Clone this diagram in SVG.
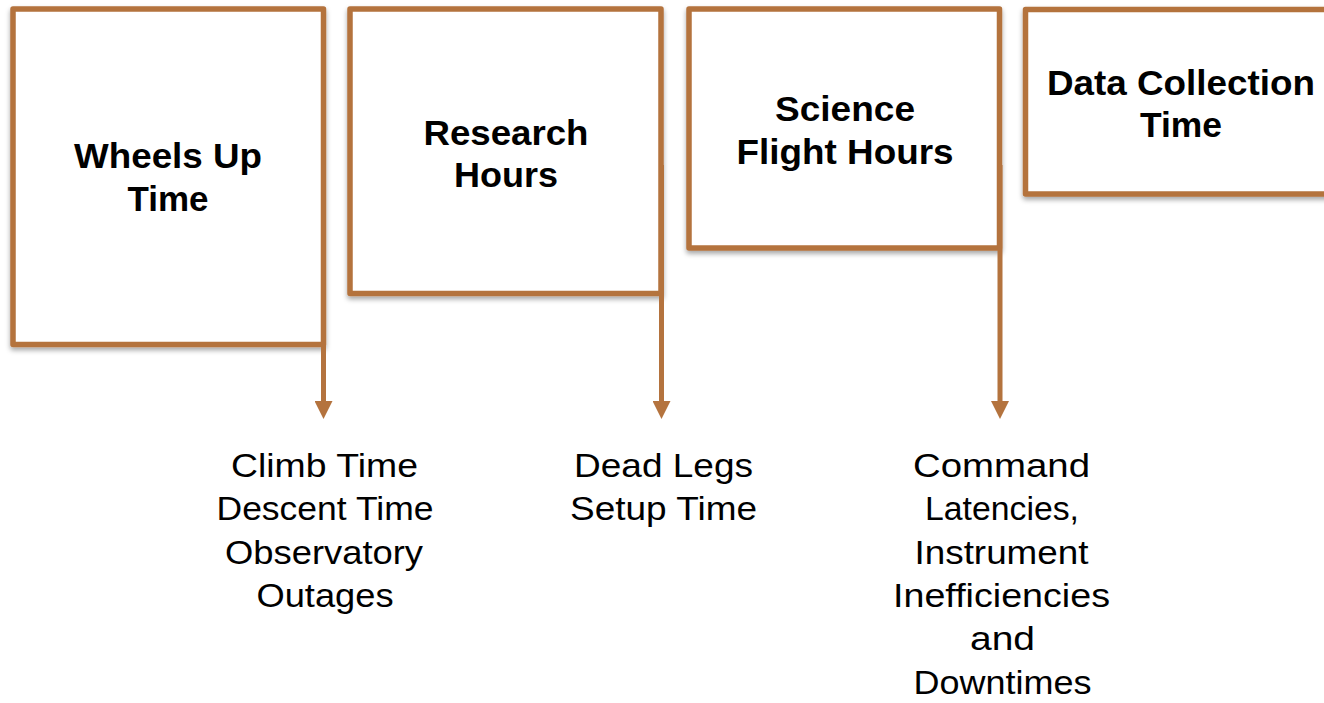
<svg xmlns="http://www.w3.org/2000/svg" width="1324" height="703" viewBox="0 0 1324 703">
<style>
.box{fill:#ffffff;stroke:#b4733e;stroke-width:5.5;stroke-linejoin:round;filter:url(#sh)}
.conn{fill:none;stroke:#b4733e;stroke-width:5;marker-end:url(#ah)}
.t{font-family:"Liberation Sans",Arial,Helvetica,sans-serif;font-weight:bold;font-size:35px;fill:#000;text-anchor:middle}
.n{font-family:"Liberation Sans",Arial,Helvetica,sans-serif;font-size:33px;fill:#000;text-anchor:middle}
</style>
<defs>
<filter id="sh" x="-10%" y="-10%" width="120%" height="125%">
<feDropShadow dx="0" dy="3" stdDeviation="2.5" flood-color="#000" flood-opacity="0.35"/>
</filter>
<marker id="ah" markerUnits="userSpaceOnUse" markerWidth="18" markerHeight="18" refX="0" refY="9" orient="auto">
<path d="M0,0 L18,9 L0,18 Z" fill="#b4733e"/>
</marker>
</defs>
<rect width="1324" height="703" fill="#ffffff"/>
<g id="node-wheels-up">
<rect class="box" x="13" y="9" width="310.5" height="335.5"/>
<text class="t" x="168" y="168" textLength="188" lengthAdjust="spacingAndGlyphs">Wheels Up</text>
<text class="t" x="168" y="211" textLength="81" lengthAdjust="spacingAndGlyphs">Time</text>
</g>
<g id="node-research">
<rect class="box" x="350" y="9" width="311" height="284.5"/>
<text class="t" x="506" y="145" textLength="165" lengthAdjust="spacingAndGlyphs">Research</text>
<text class="t" x="506" y="187" textLength="104" lengthAdjust="spacingAndGlyphs">Hours</text>
</g>
<g id="node-science">
<rect class="box" x="689" y="9" width="310.5" height="239"/>
<text class="t" x="845" y="121" textLength="140" lengthAdjust="spacingAndGlyphs">Science</text>
<text class="t" x="845" y="164" textLength="217" lengthAdjust="spacingAndGlyphs">Flight Hours</text>
</g>
<g id="node-data">
<rect class="box" x="1025.5" y="9.5" width="314" height="184.5"/>
<text class="t" x="1181" y="95" textLength="268" lengthAdjust="spacingAndGlyphs">Data Collection</text>
<text class="t" x="1181" y="137" textLength="82" lengthAdjust="spacingAndGlyphs">Time</text>
</g>
<g id="connectors">
<line class="conn" x1="323.5" y1="165" x2="323.5" y2="401"/>
<line class="conn" x1="661.5" y1="165" x2="661.5" y2="401"/>
<line class="conn" x1="1000" y1="165" x2="1000" y2="401"/>
</g>
<g id="label-wheels">
<text class="n" x="324.5" y="476.5" textLength="187" lengthAdjust="spacingAndGlyphs">Climb Time</text>
<text class="n" x="325" y="520" textLength="217" lengthAdjust="spacingAndGlyphs">Descent Time</text>
<text class="n" x="324" y="563.5" textLength="198" lengthAdjust="spacingAndGlyphs">Observatory</text>
<text class="n" x="325" y="607" textLength="137" lengthAdjust="spacingAndGlyphs">Outages</text>
</g>
<g id="label-research">
<text class="n" x="663.5" y="476.5" textLength="179" lengthAdjust="spacingAndGlyphs">Dead Legs</text>
<text class="n" x="663.5" y="520" textLength="187" lengthAdjust="spacingAndGlyphs">Setup Time</text>
</g>
<g id="label-science">
<text class="n" x="1001.5" y="476.5" textLength="177" lengthAdjust="spacingAndGlyphs">Command</text>
<text class="n" x="1002" y="520" textLength="154" lengthAdjust="spacingAndGlyphs">Latencies,</text>
<text class="n" x="1001.5" y="563.5" textLength="174" lengthAdjust="spacingAndGlyphs">Instrument</text>
<text class="n" x="1001.5" y="606.5" textLength="217" lengthAdjust="spacingAndGlyphs">Inefficiencies</text>
<text class="n" x="1002.5" y="650" textLength="65" lengthAdjust="spacingAndGlyphs">and</text>
<text class="n" x="1002.5" y="693.5" textLength="178" lengthAdjust="spacingAndGlyphs">Downtimes</text>
</g>
</svg>
